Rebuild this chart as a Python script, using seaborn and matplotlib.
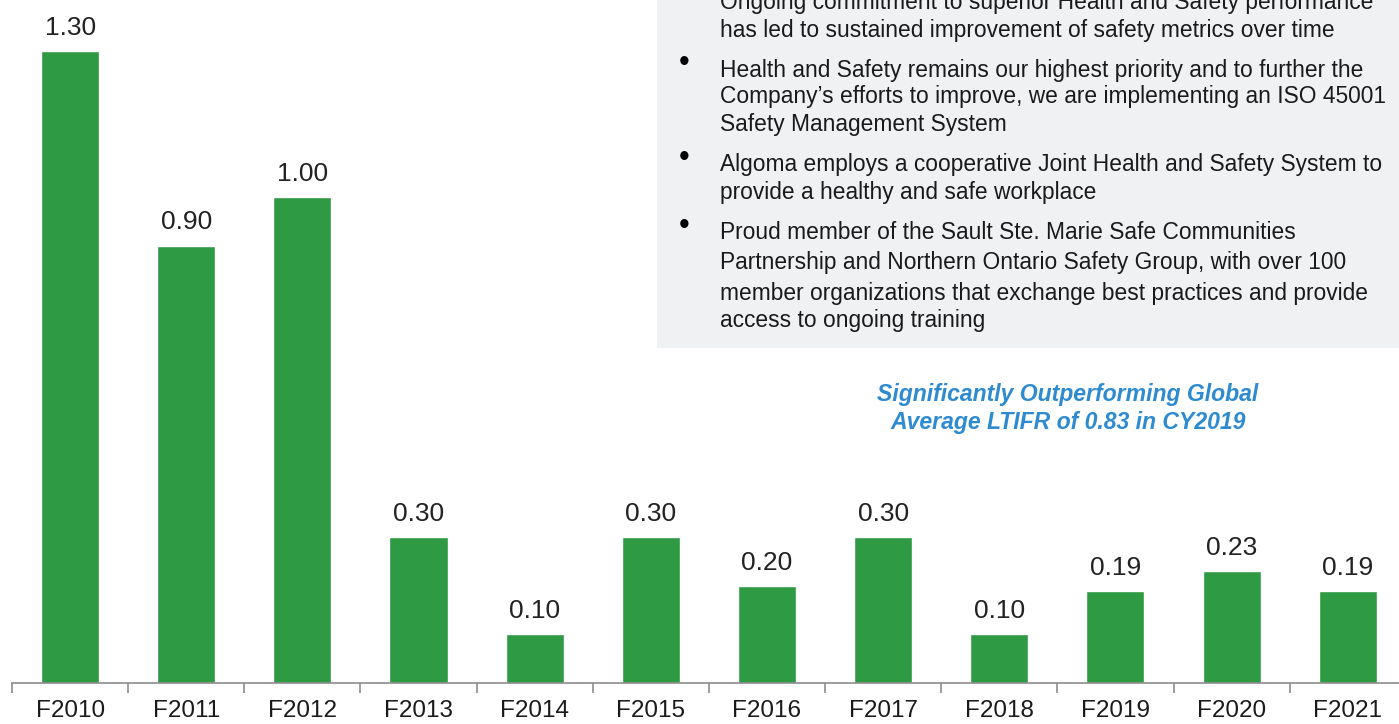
import seaborn as sns
import matplotlib.pyplot as plt
from matplotlib.patches import Rectangle
import pandas as pd
import numpy as np

sns.set_theme(style="white")
plt.rcParams['font.family'] = ['Liberation Sans', 'DejaVu Sans']

# ---- data ----
years = ['F2010', 'F2011', 'F2012', 'F2013', 'F2014', 'F2015',
         'F2016', 'F2017', 'F2018', 'F2019', 'F2020', 'F2021']
ltifr = [1.30, 0.90, 1.00, 0.30, 0.10, 0.30, 0.20, 0.30, 0.10, 0.19, 0.23, 0.19]

bullets = [
    ["Ongoing commitment to superior Health and Safety performance",
     "has led to sustained improvement of safety metrics over time"],
    ["Health and Safety remains our highest priority and to further the",
     "Company\u2019s efforts to improve, we are implementing an ISO 45001",
     "Safety Management System"],
    ["Algoma employs a cooperative Joint Health and Safety System to",
     "provide a healthy and safe workplace"],
    ["Proud member of the Sault Ste. Marie Safe Communities",
     "Partnership and Northern Ontario Safety Group, with over 100",
     "member organizations that exchange best practices and provide",
     "access to ongoing training"],
]
callout = ["Significantly Outperforming Global", "Average LTIFR of 0.83 in CY2019"]

W, H = 1399, 724
bar_color = '#2f9a44'

df = pd.DataFrame({'year': years, 'ltifr': ltifr})

fig = plt.figure(figsize=(W / 100, H / 100), dpi=100)
ax = fig.add_axes([12 / W, (H - 683) / H, (W - 12) / W, 683 / H])
ax.set_facecolor('none')

sns.barplot(data=df, x='year', y='ltifr', color=bar_color, width=0.5,
            saturation=1, ax=ax)

for c in ax.containers:
    ax.bar_label(c, fmt='%.2f', padding=8, fontsize=19, color='#222222')

ax.set_ylim(0, 683 / 486)
ax.set_xlim(-0.5, -0.5 + (W - 12) / 116.15)
ax.set_xlabel('')
ax.set_ylabel('')
ax.set_yticks([])
for s in ['top', 'right', 'left']:
    ax.spines[s].set_visible(False)
ax.spines['bottom'].set_color('#8c8c8c')
ax.spines['bottom'].set_linewidth(1.2)

ax.set_xticks(range(len(years)))
ax.set_xticklabels(years, fontsize=17.5, color='#1a1a1a')
ax.set_xticks(np.arange(-0.5, len(years) - 1, 1.0), minor=True)
ax.tick_params(axis='x', which='major', length=0, pad=12)
ax.tick_params(axis='x', which='minor', length=7, color='#8c8c8c', width=1.2,
               direction='out', bottom=True)


def fx(x):
    return x / W


def fy(y):
    return 1 - y / H


# text box on the upper right
fig.add_artist(Rectangle((fx(657), fy(348)), 1 - fx(657), 348 / H,
                         transform=fig.transFigure, facecolor='#f0f1f3',
                         edgecolor='none', zorder=-1))

line_y = [[2, 30], [70, 97, 125], [165, 193], [233, 263, 293, 320]]
for lines, ys in zip(bullets, line_y):
    fig.text(fx(684), fy(ys[0] - 7), '\u2022', fontsize=22, color='black',
             ha='center', va='center')
    for t, y in zip(lines, ys):
        fig.text(fx(720), fy(y), t, fontsize=16.4, color='#1a1a1a',
                 ha='left', va='center')

for t, y in zip(callout, [395, 423]):
    fig.text(fx(1068), fy(y), t, fontsize=16.6, color='#2e8bcf',
             fontweight='bold', fontstyle='italic', ha='center', va='center')

fig.savefig('out.png', dpi=100)
